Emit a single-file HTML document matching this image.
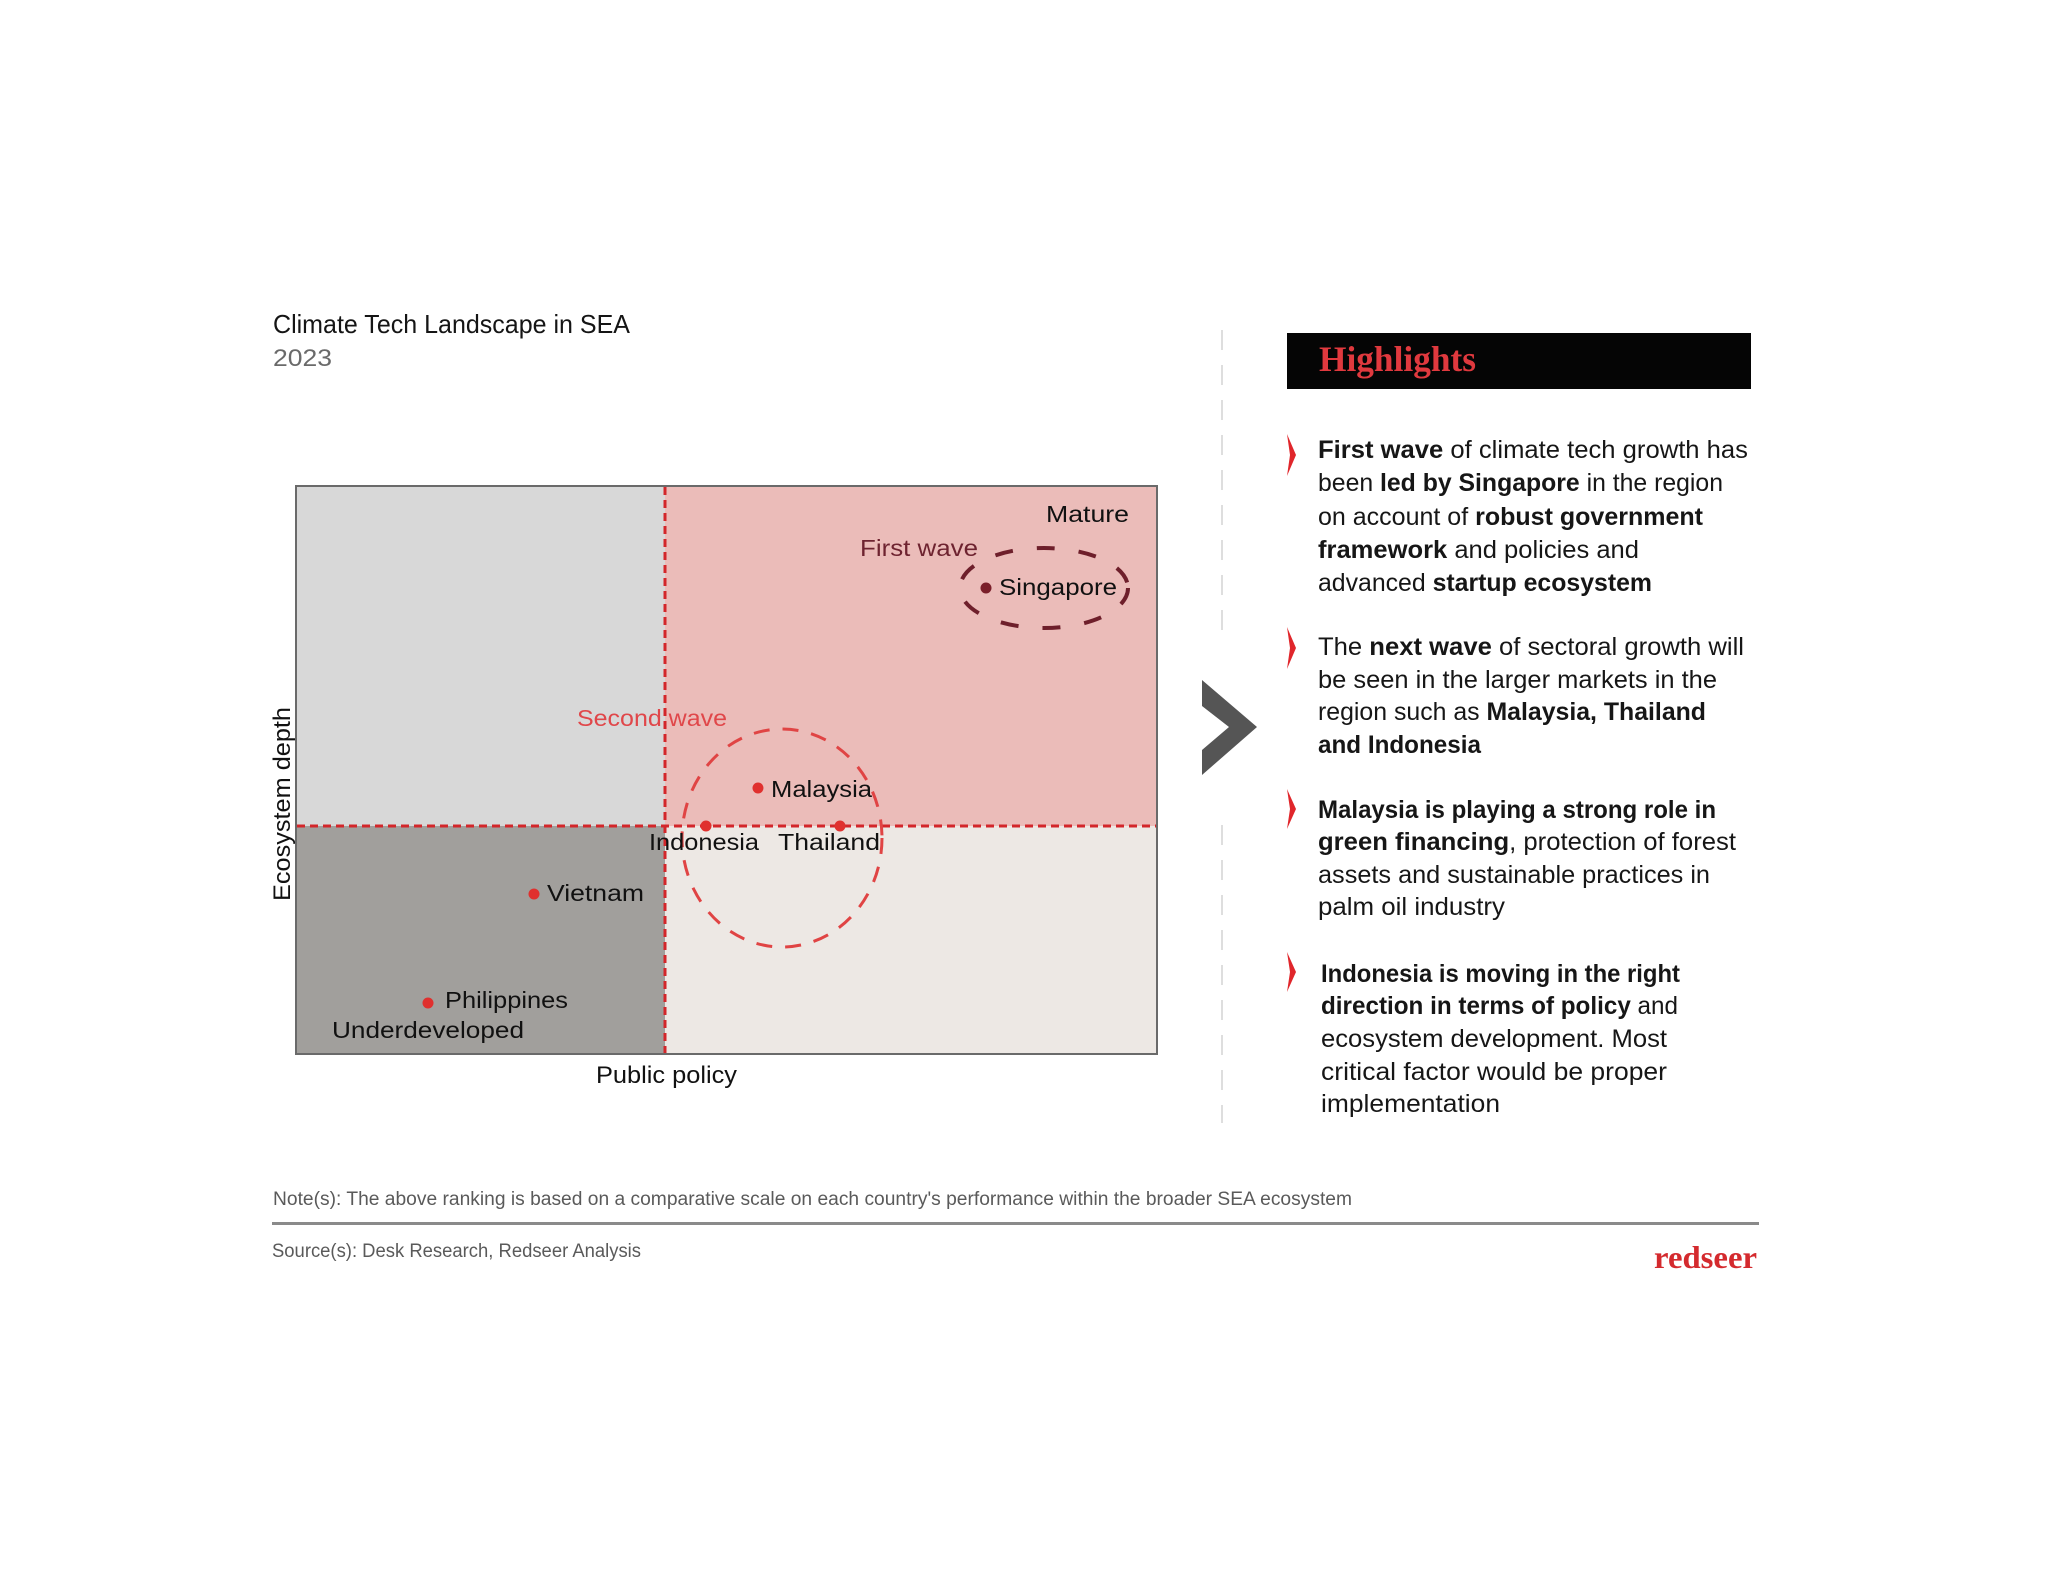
<!DOCTYPE html>
<html>
<head>
<meta charset="utf-8">
<style>
html,body{margin:0;padding:0;background:#fff;}
svg{display:block;}
.s{font-family:"Liberation Sans",sans-serif;}
.sf{font-family:"Liberation Serif",serif;font-weight:700;}
.b{font-weight:700;}
</style>
</head>
<body>
<svg width="2048" height="1587" viewBox="0 0 2048 1587" xmlns="http://www.w3.org/2000/svg">
<rect x="0" y="0" width="2048" height="1587" fill="#ffffff"/>

<g class="s">
<!-- Title -->
<text x="273" y="333" font-size="26" fill="#151515" textLength="357" lengthAdjust="spacingAndGlyphs">Climate Tech Landscape in SEA</text>
<text x="273" y="366" font-size="24" fill="#6a6a6a" textLength="59" lengthAdjust="spacingAndGlyphs">2023</text>
</g>

<!-- Chart quadrants -->
<rect x="296" y="486" width="369" height="340" fill="#d8d8d8"/>
<rect x="665" y="486" width="492" height="340" fill="#ebbcb9"/>
<rect x="296" y="826" width="369" height="228" fill="#a19f9c"/>
<rect x="665" y="826" width="492" height="228" fill="#ede8e4"/>
<rect x="296" y="486" width="861" height="568" fill="none" stroke="#6a6a6a" stroke-width="2"/>

<!-- Dashed axes -->
<line x1="665" y1="487" x2="665" y2="1053" stroke="#d3262a" stroke-width="3" stroke-dasharray="8 5"/>
<line x1="297" y1="826" x2="1156" y2="826" stroke="#d3262a" stroke-width="3" stroke-dasharray="8 5"/>

<!-- Ellipses -->
<ellipse cx="1044" cy="588" rx="84" ry="40" fill="none" stroke="#6e1f2b" stroke-width="4" stroke-dasharray="18 24"/>
<ellipse cx="782" cy="838" rx="100" ry="109" fill="none" stroke="#e04444" stroke-width="3" stroke-dasharray="16 13"/>

<!-- Dots -->
<circle cx="986" cy="588" r="5.5" fill="#7a1f2a"/>
<circle cx="758" cy="788" r="5.5" fill="#e0302e"/>
<circle cx="706" cy="826" r="5.5" fill="#e0302e"/>
<circle cx="840" cy="826" r="5.5" fill="#e0302e"/>
<circle cx="534" cy="894" r="5.5" fill="#e0302e"/>
<circle cx="428" cy="1003" r="5.5" fill="#e0302e"/>

<!-- Chart labels -->
<g class="s" font-size="23" fill="#111">
<text x="1046" y="522" textLength="83" lengthAdjust="spacingAndGlyphs">Mature</text>
<text x="860" y="556" fill="#6e2330" textLength="118" lengthAdjust="spacingAndGlyphs">First wave</text>
<text x="999" y="595" textLength="118" lengthAdjust="spacingAndGlyphs">Singapore</text>
<text x="577" y="726" fill="#e0474a" textLength="150" lengthAdjust="spacingAndGlyphs">Second wave</text>
<text x="771" y="797" textLength="101" lengthAdjust="spacingAndGlyphs">Malaysia</text>
<text x="649" y="850" textLength="110" lengthAdjust="spacingAndGlyphs">Indonesia</text>
<text x="778" y="850" textLength="102" lengthAdjust="spacingAndGlyphs">Thailand</text>
<text x="547" y="901" textLength="97" lengthAdjust="spacingAndGlyphs">Vietnam</text>
<text x="445" y="1008" textLength="123" lengthAdjust="spacingAndGlyphs">Philippines</text>
<text x="332" y="1038" textLength="192" lengthAdjust="spacingAndGlyphs">Underdeveloped</text>
</g>

<!-- Axis labels -->
<g class="s">
<text x="596" y="1083" font-size="24" fill="#111" textLength="141" lengthAdjust="spacingAndGlyphs">Public policy</text>
<text transform="translate(290,901) rotate(-90)" x="0" y="0" font-size="24" fill="#111" textLength="194" lengthAdjust="spacingAndGlyphs">Ecosystem depth</text>
</g>

<!-- Separator dashed line -->
<line x1="1222" y1="330" x2="1222" y2="630" stroke="#d4d4d4" stroke-width="1.5" stroke-dasharray="20 15"/>
<line x1="1222" y1="825" x2="1222" y2="1123" stroke="#d4d4d4" stroke-width="1.5" stroke-dasharray="20 15"/>

<!-- Big arrow -->
<polygon points="1202,680 1257,727 1202,775 1202,750 1229,727 1202,706" fill="#555555"/>

<!-- Highlights header -->
<rect x="1287" y="333" width="464" height="56" fill="#050505"/>
<text class="sf" x="1319" y="371" font-size="36" fill="#e0393e" textLength="157" lengthAdjust="spacingAndGlyphs">Highlights</text>

<!-- Bullet markers -->
<g fill="#e0262b">
<polygon points="1287,434 1296,455 1287,476 1290,455"/>
<polygon points="1287,627 1296,648 1287,669 1290,648"/>
<polygon points="1287,789 1296,809 1287,829 1290,809"/>
<polygon points="1287,952 1296,972 1287,992 1290,972"/>
</g>

<!-- Bullet texts -->
<g class="s" font-size="25" fill="#161616">
<text x="1318" y="458" textLength="430" lengthAdjust="spacingAndGlyphs"><tspan class="b">First wave</tspan> of climate tech growth has</text>
<text x="1318" y="491" textLength="405" lengthAdjust="spacingAndGlyphs">been <tspan class="b">led by Singapore</tspan> in the region</text>
<text x="1318" y="525" textLength="385" lengthAdjust="spacingAndGlyphs">on account of <tspan class="b">robust government</tspan></text>
<text x="1318" y="558" textLength="321" lengthAdjust="spacingAndGlyphs"><tspan class="b">framework</tspan> and policies and</text>
<text x="1318" y="591" textLength="334" lengthAdjust="spacingAndGlyphs">advanced <tspan class="b">startup ecosystem</tspan></text>

<text x="1318" y="655" textLength="426" lengthAdjust="spacingAndGlyphs">The <tspan class="b">next wave</tspan> of sectoral growth will</text>
<text x="1318" y="688" textLength="399" lengthAdjust="spacingAndGlyphs">be seen in the larger markets in the</text>
<text x="1318" y="720" textLength="388" lengthAdjust="spacingAndGlyphs">region such as <tspan class="b">Malaysia, Thailand</tspan></text>
<text x="1318" y="753" textLength="163" lengthAdjust="spacingAndGlyphs"><tspan class="b">and Indonesia</tspan></text>

<text x="1318" y="818" textLength="398" lengthAdjust="spacingAndGlyphs"><tspan class="b">Malaysia is playing a strong role in</tspan></text>
<text x="1318" y="850" textLength="418" lengthAdjust="spacingAndGlyphs"><tspan class="b">green financing</tspan>, protection of forest</text>
<text x="1318" y="883" textLength="392" lengthAdjust="spacingAndGlyphs">assets and sustainable practices in</text>
<text x="1318" y="915" textLength="187" lengthAdjust="spacingAndGlyphs">palm oil industry</text>

<text x="1321" y="982" textLength="359" lengthAdjust="spacingAndGlyphs"><tspan class="b">Indonesia is moving in the right</tspan></text>
<text x="1321" y="1014" textLength="357" lengthAdjust="spacingAndGlyphs"><tspan class="b">direction in terms of policy</tspan> and</text>
<text x="1321" y="1047" textLength="346" lengthAdjust="spacingAndGlyphs">ecosystem development. Most</text>
<text x="1321" y="1080" textLength="346" lengthAdjust="spacingAndGlyphs">critical factor would be proper</text>
<text x="1321" y="1112" textLength="179" lengthAdjust="spacingAndGlyphs">implementation</text>
</g>

<!-- Footer -->
<g class="s">
<text x="273" y="1205" font-size="19" fill="#5a5a5a" textLength="1079" lengthAdjust="spacingAndGlyphs">Note(s): The above ranking is based on a comparative scale on each country's performance within the broader SEA ecosystem</text>
<line x1="272" y1="1223.5" x2="1759" y2="1223.5" stroke="#8a8a8a" stroke-width="3"/>
<text x="272" y="1257" font-size="19" fill="#5a5a5a" textLength="369" lengthAdjust="spacingAndGlyphs">Source(s): Desk Research, Redseer Analysis</text>
</g>
<text class="sf" x="1654" y="1268" font-size="32" fill="#d42a2e" textLength="103" lengthAdjust="spacingAndGlyphs">redseer</text>
</svg>
</body>
</html>
